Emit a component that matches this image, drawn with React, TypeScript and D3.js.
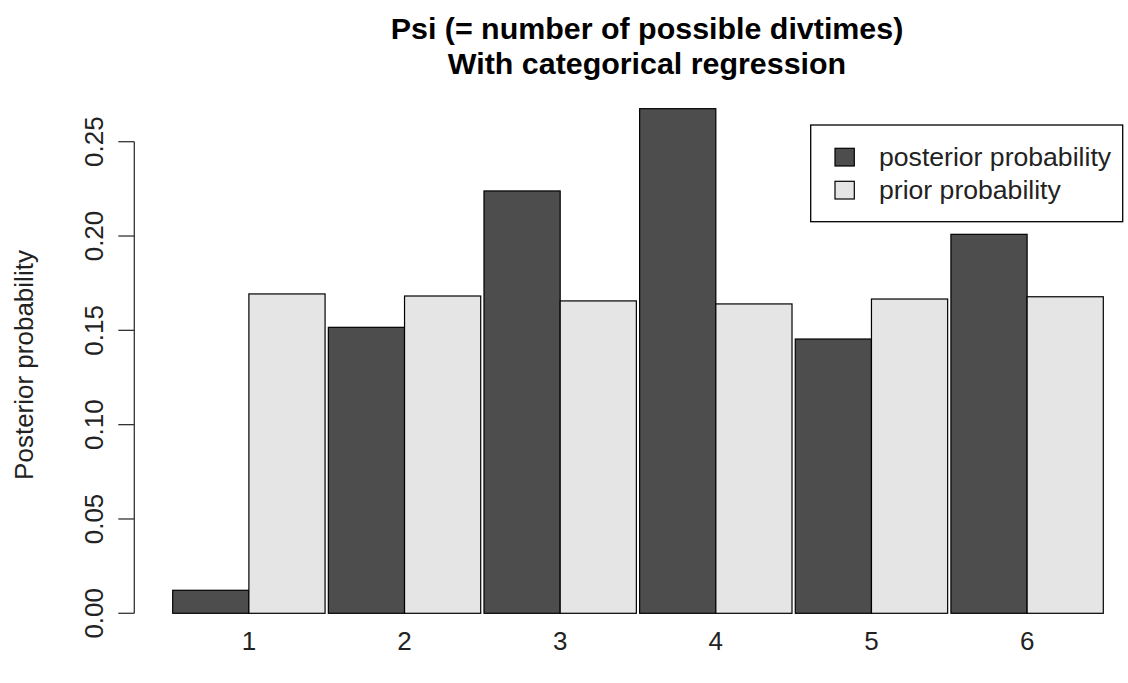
import React from "react";
import * as d3 from "d3";

const categories = ["1", "2", "3", "4", "5", "6"];
const posterior = [0.0122, 0.1516, 0.2239, 0.2675, 0.1454, 0.2009];
const prior = [0.1693, 0.1682, 0.1656, 0.164, 0.1666, 0.1678];
const seriesNames = ["posterior probability", "prior probability"];
const yTicks = [0, 0.05, 0.1, 0.15, 0.2, 0.25];
const titleLines = ["Psi (= number of possible divtimes)", "With categorical regression"];
const yLabel = "Posterior probability";

const W = 1128;
const H = 683;
const colors = ["#4d4d4d", "#e5e5e5"];
const FONT = "'Liberation Sans', Arial, sans-serif";

export default function App() {
  const y = d3.scaleLinear().domain([0, 0.25]).range([613.3, 141.7]);
  const x0 = d3.scaleBand<string>().domain(categories).range([172.7, 1103.3]).paddingInner(0.021).paddingOuter(0);
  const x1 = d3.scaleBand<number>().domain([0, 1]).range([0, x0.bandwidth()]).padding(0);
  const series = [posterior, prior];
  const axisX = 134.3;

  return (
    <svg width={W} height={H} style={{ position: "absolute", left: 0, top: 0, background: "#fff" }} fontFamily={FONT}>
      <rect x={0} y={0} width={W} height={H} fill="#fff" />
      {titleLines.map((t, i) => (
        <text key={i} x={647} y={39 + i * 35} textAnchor="middle" fontWeight="bold" fontSize={30.4} fill="#000">
          {t}
        </text>
      ))}
      {/* bars */}
      {categories.map((c, ci) =>
        series.map((s, si) => (
          <rect
            key={c + "-" + si}
            x={(x0(c) as number) + (x1(si) as number)}
            y={y(s[ci])}
            width={x1.bandwidth()}
            height={y(0) - y(s[ci])}
            fill={colors[si]}
            stroke="#000"
            strokeWidth={1.2}
          />
        ))
      )}
      {/* y axis */}
      <line x1={axisX} x2={axisX} y1={y(0.25)} y2={y(0)} stroke="#333" strokeWidth={1.3} />
      {yTicks.map((t) => (
        <g key={t}>
          <line x1={axisX - 16} x2={axisX} y1={y(t)} y2={y(t)} stroke="#333" strokeWidth={1.3} />
          <text
            transform={`translate(103,${y(t)}) rotate(-90)`}
            textAnchor="middle"
            fontSize={26}
            fill="#222"
          >
            {d3.format(".2f")(t)}
          </text>
        </g>
      ))}
      <text transform={`translate(33,365) rotate(-90)`} textAnchor="middle" fontSize={26} fill="#222">
        {yLabel}
      </text>
      {/* x labels */}
      {categories.map((c) => (
        <text key={c} x={(x0(c) as number) + x0.bandwidth() / 2} y={650} textAnchor="middle" fontSize={26} fill="#222">
          {c}
        </text>
      ))}
      {/* legend */}
      <rect x={810.7} y={125} width={312} height={96.7} fill="#fff" stroke="#000" strokeWidth={1.3} />
      {seriesNames.map((n, i) => (
        <g key={n}>
          <rect x={835} y={148.3 + i * 33} width={19.3} height={17.7} fill={colors[i]} stroke="#000" strokeWidth={1.2} />
          <text x={879} y={157 + i * 33} dominantBaseline="central" fontSize={26.6} fill="#222">
            {n}
          </text>
        </g>
      ))}
    </svg>
  );
}
